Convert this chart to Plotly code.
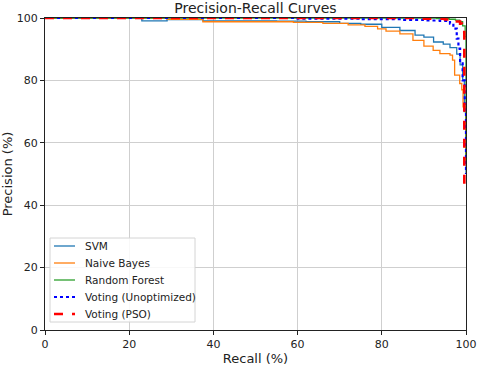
import plotly.graph_objects as go

svm_recall = [0, 23, 29, 37.5, 55, 62, 70, 75, 80, 84.3, 87.9, 90, 92.3, 94.6, 96.2, 97.8, 98.6, 99.2, 99.6, 100]
svm_precision = [100, 99.1, 99.5, 99.1, 99.0, 98.8, 98.3, 98.0, 97.0, 96.0, 94.5, 93.9, 92.3, 91.6, 90.5, 88.4, 85, 80, 70, 50]

nb_recall = [0, 29, 37.5, 59, 66, 72, 76, 79, 81, 84.3, 87.4, 90, 92.2, 93.8, 96.2, 96.8, 97.3, 98.5, 99.0, 99.3, 100]
nb_precision = [100, 99.6, 98.8, 98.6, 98.3, 97.8, 97.3, 96.5, 95.8, 94.9, 92.8, 91.0, 89.6, 88.6, 88.1, 86.5, 81.7, 79, 77, 71.5, 54.5]

rf_recall = [0, 93, 96, 97.5, 98.5, 99.2, 99.8, 100]
rf_precision = [100, 99.8, 99.6, 99.3, 98.8, 97.5, 94, 54]

vu_recall = [0, 60, 75, 85, 90, 93.8, 96.2, 97, 97.8, 98.2, 98.6, 99.2, 99.7, 100]
vu_precision = [100, 99.8, 99.6, 99.4, 99.2, 99.1, 98.2, 96.6, 93.4, 90.2, 85.9, 80, 70, 50]

vp_recall = [0, 90, 95, 97, 98.6, 99.0, 99.6, 99.7]
vp_precision = [100, 99.8, 99.5, 98.9, 98.2, 95.5, 46, 46]

series = [
    ("SVM", svm_recall, svm_precision, "#1f77b4", "solid", 1.3),
    ("Naive Bayes", nb_recall, nb_precision, "#ff7f0e", "solid", 1.3),
    ("Random Forest", rf_recall, rf_precision, "#2ca02c", "solid", 1.3),
    ("Voting (Unoptimized)", vu_recall, vu_precision, "blue", "dot", 2.2),
    ("Voting (PSO)", vp_recall, vp_precision, "red", "dash", 2.6),
]

W, H = 480, 366
L, R, T, B = 45, 14, 18, 36
PW, PH = W - L - R, H - T - B


def px_x(px):
    return (px - L) / PW


def px_y(py):
    return (H - B - py) / PH


fig = go.Figure()
for name, r, p, c, d, w in series:
    fig.add_trace(go.Scatter(x=r, y=p, mode="lines", name=name, showlegend=False,
                             line=dict(color=c, dash=d, width=w, shape="hv")))

font = "DejaVu Sans"

# legend drawn as shapes/annotations to match matplotlib spacing
shapes = [dict(type="rect", xref="paper", yref="paper",
               x0=px_x(50), x1=px_x(195), y0=px_y(322), y1=px_y(238),
               line=dict(color="#d4d4d4", width=1), fillcolor="rgba(255,255,255,0.85)",
               layer="above")]
annotations = []
row0, step = 246, 17
for i, (name, r, p, c, d, w) in enumerate(series):
    yy = px_y(row0 + step * i)
    shapes.append(dict(type="line", xref="paper", yref="paper",
                       x0=px_x(54), x1=px_x(75), y0=yy, y1=yy,
                       line=dict(color=c, dash=d, width=w), layer="above"))
    annotations.append(dict(text=name, xref="paper", yref="paper", x=px_x(83), y=yy,
                            xanchor="left", yanchor="middle", showarrow=False,
                            font=dict(family=font, size=10.5, color="#222")))

axis_common = dict(range=[0, 100], showgrid=True, gridcolor="#cfcfcf", gridwidth=1,
                   zeroline=False, showline=True, linecolor="#222", linewidth=1, mirror=True,
                   ticks="outside", ticklen=4, tickcolor="#222", tickvals=[0, 20, 40, 60, 80, 100],
                   tickfont=dict(family=font, size=11, color="#222"), automargin=False)

fig.update_layout(
    width=W, height=H,
    margin=dict(l=L, r=R, t=T, b=B, autoexpand=False),
    paper_bgcolor="white", plot_bgcolor="white",
    title=dict(text="Precision-Recall Curves", x=(L + W - R) / 2 / W, xanchor="center",
               y=1 - 8.5 / H, yanchor="middle", font=dict(family=font, size=14, color="#222")),
    xaxis=dict(axis_common, title=dict(text="Recall (%)", font=dict(family=font, size=13, color="#222"), standoff=6)),
    yaxis=dict(axis_common, title=dict(text="Precision (%)", font=dict(family=font, size=13, color="#222"), standoff=4)),
    shapes=shapes, annotations=annotations,
    showlegend=False,
)

fig.write_html("out.html", config={"displayModeBar": False},
               post_script="document.body.style.margin='0';document.body.style.overflow='hidden';")
